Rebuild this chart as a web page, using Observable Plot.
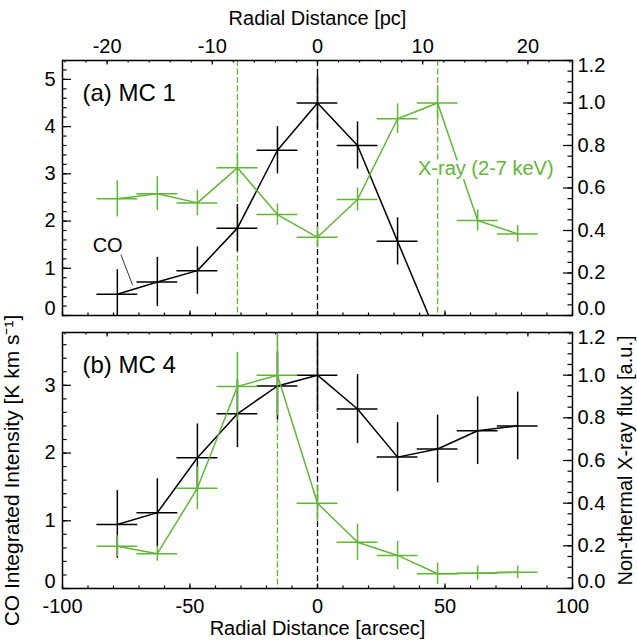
<!DOCTYPE html>
<html><head><meta charset="utf-8">
<script src="https://cdn.jsdelivr.net/npm/d3@7"></script>
<script src="https://cdn.jsdelivr.net/npm/@observablehq/plot@0.6"></script>
<style>
body{margin:0;background:#fff;}
#chart{width:637px;height:640px;position:relative;background:#fff;}
#chart svg{display:block;overflow:visible;}
</style></head><body><div id="chart"></div>
<script>
// ---- data (radial distance in arcsec, bin centres) ----
const radialArcsec = [-78.5, -62.8, -47.1, -31.4, -15.7, 0, 15.7, 31.4, 47.1, 62.8, 78.5];
const binHalfWidth = 8; // arcsec (horizontal error bar)

// (a) MC 1
const mc1CO      = [0.45, 0.71, 0.95, 1.85, 3.50, 4.50, 3.60, 1.57, -0.45];
const mc1COErr   = [0.52, 0.52, 0.50, 0.50, 0.50, 0.58, 0.50, 0.50, 0.40];
const mc1Xray    = [0.549, 0.573, 0.530, 0.695, 0.475, 0.368, 0.546, 0.926, 1.000, 0.447, 0.384];
const mc1XrayErr = [0.085, 0.080, 0.060, 0.070, 0.050, 0.050, 0.055, 0.070, 0.080, 0.050, 0.040];
const mc1GreenMarkers = [-31.4, 47.1];
const mc1BlackMarkers = [0];

// (b) MC 4
const mc4CO      = [0.945, 1.12, 1.93, 2.58, 2.99, 3.15, 2.65, 1.94, 2.06, 2.33, 2.40];
const mc4COErr   = [0.50, 0.50, 0.50, 0.50, 0.50, 0.55, 0.51, 0.51, 0.50, 0.50, 0.50];
const mc4Xray    = [0.198, 0.163, 0.470, 0.947, 1.000, 0.400, 0.217, 0.155, 0.069, 0.072, 0.076];
const mc4XrayErr = [0.050, 0.035, 0.100, 0.160, 0.190, 0.085, 0.085, 0.066, 0.050, 0.033, 0.030];
const mc4GreenMarkers = [-15.7];
const mc4BlackMarkers = [0];

// ---- axes / ticks ----
const arcsecTicks = [-100, -50, 0, 50, 100];
const pcTicks = [-20, -10, 0, 10, 20];
const pcPerArcsec = 0.2424;
const xrayTicks = [0, 0.2, 0.4, 0.6, 0.8, 1.0, 1.2];
const mc1COTicks = [0, 1, 2, 3, 4, 5];
const mc4COTicks = [0, 1, 2, 3];
const mc1Scale = 4.5;   // CO units per X-ray unit (panel a)
const mc4Scale = 3.15;  // CO units per X-ray unit (panel b)

const GREEN = "#63b539";
const FONT = "'Liberation Sans', Arial, Helvetica, sans-serif";
const W = 637, ML = 62, MR = 65;
const innerW = W - ML - MR;

function panel(cfg) {
  const {height, mt, mb, k, co, coErr, xr, xrErr, coTicks, greens, blacks, label, extra = [], topAxis} = cfg;
  const innerH = height - mt - mb;
  const coData = co.map((v, i) => ({x: radialArcsec[i], y: v, e: coErr[i]}));
  const xrData = xr.map((v, i) => ({x: radialArcsec[i], y: v * k, e: xrErr[i] * k}));
  const yMax = 1.2 * k;
  const coMinor = d3.range(0, yMax + 1e-9, 0.2);
  const xrMinor = d3.range(0, 1.2 + 1e-9, 0.05).map(v => v * k);
  const arcMinor = d3.range(-100, 100.001, 10);
  const pcMinor = d3.range(-24, 24.001, 2).map(p => p / pcPerArcsec);
  const errMarks = (data, stroke) => [
    Plot.line(data, {x: "x", y: "y", stroke, strokeWidth: 1.5, clip: true}),
    Plot.ruleX(data, {x: "x", y1: d => d.y - d.e, y2: d => d.y + d.e, stroke, strokeWidth: 1.5, clip: true}),
    Plot.ruleY(data, {y: "y", x1: d => d.x - binHalfWidth, x2: d => d.x + binHalfWidth, stroke, strokeWidth: 1.5, clip: true})
  ];
  const xrPos = xrayTicks.map(v => v * k);
  const marks = [
    Plot.ruleX(blacks, {stroke: "black", strokeWidth: 1.3, strokeDasharray: "6,3"}),
    Plot.ruleX(greens, {stroke: GREEN, strokeWidth: 1.3, strokeDasharray: "6,2.5"}),
    ...errMarks(coData, "black"),
    ...errMarks(xrData, GREEN),
    // inward ticks
    Plot.ruleY(coTicks, {strokeWidth: 1.2, insetRight: innerW - 9}),
    Plot.ruleY(coMinor, {strokeWidth: 1.2, insetRight: innerW - 4.5}),
    Plot.ruleY(xrPos, {strokeWidth: 1.2, insetLeft: innerW - 9}),
    Plot.ruleY(xrMinor, {strokeWidth: 1.2, insetLeft: innerW - 4.5}),
    Plot.ruleX(arcsecTicks, {strokeWidth: 1.2, insetTop: innerH - 4.5}),
    Plot.ruleX(arcMinor, {strokeWidth: 1.2, insetTop: innerH - 2.5}),
    Plot.ruleX(pcTicks.map(p => p / pcPerArcsec), {strokeWidth: 1.2, insetBottom: innerH - 4.5}),
    Plot.ruleX(pcMinor, {strokeWidth: 1.2, insetBottom: innerH - 2.5}),
    Plot.frame({stroke: "black", strokeWidth: 1.5}),
    // tick labels (end labels nudged inside, as in the original)
    Plot.axisY(coTicks.slice(1), {anchor: "left", tickSize: 0, tickPadding: 7, label: null, tickFormat: d => String(d)}),
    Plot.axisY(coTicks.slice(0, 1), {anchor: "left", tickSize: 0, tickPadding: 7, label: null, dy: -7, tickFormat: d => String(d)}),
    Plot.axisY(xrPos.slice(1, -1), {anchor: "right", tickSize: 0, tickPadding: 5, label: null, tickFormat: d => (d / k).toFixed(1)}),
    Plot.axisY(xrPos.slice(0, 1), {anchor: "right", tickSize: 0, tickPadding: 5, label: null, dy: -7, tickFormat: d => (d / k).toFixed(1)}),
    Plot.axisY(xrPos.slice(-1), {anchor: "right", tickSize: 0, tickPadding: 5, label: null, dy: 5, tickFormat: d => (d / k).toFixed(1)}),
    Plot.text([label], {frameAnchor: "top-left", dx: 20, dy: 33, textAnchor: "start", lineAnchor: "middle", fontSize: 24}),
    ...extra
  ];
  if (topAxis) {
    marks.push(Plot.axisX(pcTicks.map(p => p / pcPerArcsec), {anchor: "top", tickSize: 0, tickPadding: 8, label: null, tickFormat: d => String(Math.round(d * pcPerArcsec))}));
    marks.push(Plot.text(["Radial Distance [pc]"], {frameAnchor: "top", dy: -42, lineAnchor: "middle", textAnchor: "middle"}));
  } else {
    marks.push(Plot.axisX(arcsecTicks, {anchor: "bottom", tickSize: 0, tickPadding: 10, label: null, tickFormat: d => String(d)}));
    marks.push(Plot.text(["Radial Distance [arcsec]"], {frameAnchor: "bottom", dy: 40, lineAnchor: "middle", textAnchor: "middle"}));
    marks.push(Plot.text(["CO Integrated Intensity [K km s\u207B\u00B9]"], {frameAnchor: "left", dx: -50, dy: 10, rotate: -90, lineAnchor: "middle", textAnchor: "middle", fontSize: 21}));
    marks.push(Plot.text(["Non-thermal X-ray flux [a.u.]"], {frameAnchor: "right", dx: 53, rotate: -90, lineAnchor: "middle", textAnchor: "middle"}));
  }
  return Plot.plot({
    width: W, height,
    marginLeft: ML, marginRight: MR, marginTop: mt, marginBottom: mb,
    x: {domain: [-100, 100]},
    y: {domain: [0, yMax]},
    style: {fontFamily: FONT, fontSize: "20px", color: "black", background: "transparent", overflow: "visible"},
    marks
  });
}

// annotation positions (data units)
const coLabel = [{x: -82.3, y: 1.48, text: "CO"}];
const coLeader = [{x1: -77.1, y1: 1.29, x2: -72.5, y2: 0.64}];
const xrayLabel = [{x: 66, y: 0.69, text: "X-ray (2-7 keV)"}];

const p1 = panel({
  height: 322, mt: 60, mb: 7, k: mc1Scale,
  co: mc1CO, coErr: mc1COErr, xr: mc1Xray, xrErr: mc1XrayErr,
  coTicks: mc1COTicks, greens: mc1GreenMarkers, blacks: mc1BlackMarkers,
  label: "(a) MC 1", topAxis: true,
  extra: [
    Plot.text(coLabel, {x: "x", y: "y", text: "text", fill: "black"}),
    Plot.link(coLeader, {x1: "x1", y1: "y1", x2: "x2", y2: "y2", stroke: "black", strokeWidth: 0.8}),
    Plot.text(xrayLabel, {x: "x", y: d => d.y * mc1Scale, text: "text", fill: GREEN, stroke: "white", strokeWidth: 7, paintOrder: "stroke"})
  ]
});
const p2 = panel({
  height: 318, mt: 10, mb: 52, k: mc4Scale,
  co: mc4CO, coErr: mc4COErr, xr: mc4Xray, xrErr: mc4XrayErr,
  coTicks: mc4COTicks, greens: mc4GreenMarkers, blacks: mc4BlackMarkers,
  label: "(b) MC 4", topAxis: false
});
const chart = document.getElementById("chart");
chart.appendChild(p1);
chart.appendChild(p2);
</script>
</body></html>
